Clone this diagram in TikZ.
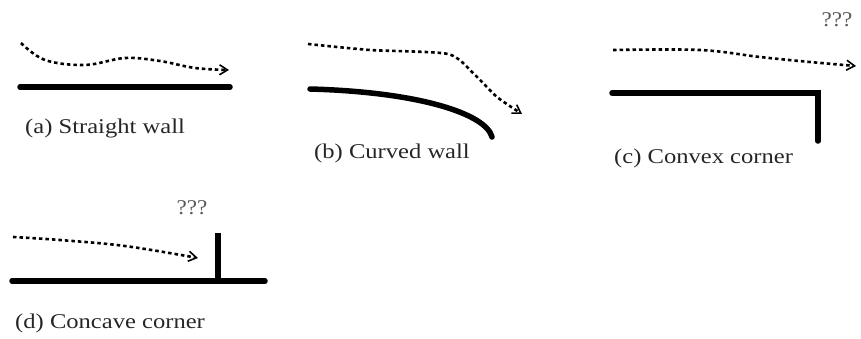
\documentclass[tikz,border=0pt]{standalone}
\usepackage{fontspec}
\setmainfont{Liberation Serif}
\usepackage{xcolor}
\definecolor{cWall}{HTML}{000000}
\definecolor{cText}{HTML}{262626}
\usepackage{tikz}
\usetikzlibrary{arrows.meta}
\tikzset{
  wall-line/.style={draw=cWall,line width=5.5pt,line cap=round},
  flow-path/.style={draw=black,line width=2.6pt,dash pattern=on 3.5pt off 3pt,
    -{Straight Barb[length=8pt,width=10pt,line width=1.6pt]}},
  caption-text/.style={anchor=west,inner sep=0pt,text=cText,
    font=\fontsize{21}{23}\selectfont,xscale=1.17},
  query-text/.style={inner sep=0pt,text=black!65,
    font=\fontsize{21}{23}\selectfont,xscale=1.1},
}

\begin{document}
\begin{tikzpicture}[x=1pt,y=-1pt]
  \useasboundingbox (0,0) rectangle (861,338);
  % (a) straight wall
  \coordinate (aW1) at (20,87);
  \coordinate (aW2) at (230,87);
  \draw[wall-line] (aW1) -- (aW2);
  \draw[flow-path] plot[smooth,tension=0.6] coordinates
    {(21,43) (45,60) (85,65) (125,58) (160,61) (195,68) (229,70)};
  \node[caption-text] (capA) at (25,128) {(a) Straight wall};
  % (b) curved wall
  \coordinate (bW1) at (310,89);
  \coordinate (bW2) at (492,137);
  \draw[wall-line] (bW1) .. controls (420,92) and (486,114) .. (bW2);
  \draw[flow-path] plot[smooth,tension=0.4] coordinates
    {(308,44) (370,50) (448,54) (474,74) (497,97) (522,114)};
  \node[caption-text] (capB) at (314,153) {(b) Curved wall};
  % (c) convex corner
  \coordinate (cW1) at (612,93);
  \coordinate (cC) at (818,93);
  \coordinate (cW2) at (818,141);
  \draw[wall-line,line join=miter] (cW1) -- (cC) -- (cW2);
  \draw[flow-path] plot[smooth,tension=0.6] coordinates
    {(613,50) (700,50) (760,57) (810,62) (856,66)};
  \node[query-text] (qC) at (837,20) {???};
  \node[caption-text] (capC) at (614,158) {(c) Convex corner};
  % (d) concave corner
  \coordinate (dW1) at (12,281);
  \coordinate (dW2) at (265,281);
  \coordinate (dT) at (218,233);
  \coordinate (dB) at (218,281);
  \draw[wall-line] (dW1) -- (dW2);
  \draw[wall-line,line cap=butt] (dT) -- (dB);
  \draw[flow-path] plot[smooth,tension=0.6] coordinates
    {(13,237) (60,240) (125,246) (198,258)};
  \node[query-text] (qD) at (192,208) {???};
  \node[caption-text] (capD) at (15,323) {(d) Concave corner};
\end{tikzpicture}
\end{document}
